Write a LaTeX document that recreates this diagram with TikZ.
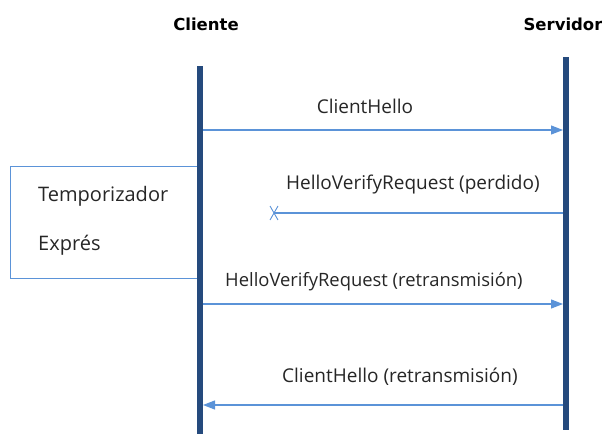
\documentclass[tikz,border=0pt]{standalone}
\usepackage{fontspec}
\setmainfont{Open Sans}
\newfontfamily\headfont{DejaVu Sans}
\usetikzlibrary{arrows.meta,shapes.misc}

\definecolor{lifeblue}{HTML}{254A7D}
\definecolor{msgblue}{HTML}{5B93D8}

\tikzset{
    lifeline/.style={lifeblue, line width=5.5pt},
    msg/.style={msgblue, line width=1.1pt, -{Triangle[length=12pt,width=9pt]}},
    msglabel/.style={font=\fontsize{19}{22}\selectfont, text=black!85, inner sep=0pt},
    head/.style={font=\headfont\bfseries\fontsize{16.5}{19}\selectfont, inner sep=0pt}
}

\begin{document}
\begin{tikzpicture}[x=1pt, y=-1pt, line cap=butt, line join=miter]

\useasboundingbox (0,0) rectangle (602,434);

% participants
\node[head] (cli) at (206,24) {Cliente};
\node[head] (srv) at (563,24) {Servidor};

\coordinate (cliTop) at (200,66);
\coordinate (cliBot) at (200,434);
\coordinate (srvTop) at (566,57);
\coordinate (srvBot) at (566,430);

% timer box
\draw[msgblue, line width=0.9pt] (200,166) -- (10,166) -- (10,278) -- (200,278);
\node[msglabel, anchor=west, font=\fontsize{20}{22}\selectfont] (tmp) at (38,196) {Temporizador};
\node[msglabel, anchor=west, font=\fontsize{20}{22}\selectfont] (exp) at (38,245) {Exprés};

\draw[lifeline] (cliTop) -- (cliBot);
\draw[lifeline] (srvTop) -- (srvBot);

% messages
\coordinate (m1a) at (203,130);
\coordinate (m1b) at (563,130);
\coordinate (m2a) at (563,213);
\node[cross out, draw=msgblue, line width=0.9pt, minimum width=7pt, minimum height=13pt, inner sep=0pt] (lost) at (274,213) {};
\coordinate (m3a) at (203,304);
\coordinate (m3b) at (563,304);
\coordinate (m4a) at (563,405);
\coordinate (m4b) at (203,405);

\draw[msg] (m1a) -- (m1b);
\draw[msgblue, line width=1.1pt] (m2a) -- (lost.center);
\draw[msg] (m3a) -- (m3b);
\draw[msg] (m4a) -- (m4b);

\node[msglabel] (l1) at (365,106) {ClientHello};
\node[msglabel, anchor=west] (l2) at (286,185) {HelloVerifyRequest (perdido)};
\node[msglabel, anchor=west, font=\fontsize{18.4}{22}\selectfont] (l3) at (225,282) {HelloVerifyRequest (retransmisión)};
\node[msglabel, anchor=west] (l4) at (282,377) {ClientHello (retransmisión)};

\end{tikzpicture}
\end{document}
